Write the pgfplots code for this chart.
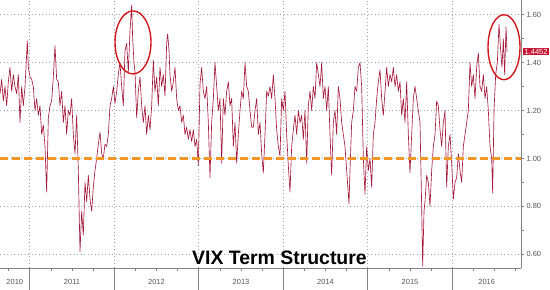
\documentclass[border=0pt]{standalone}
\usepackage{fontspec}
\setmainfont{Liberation Sans}
\usepackage{pgfplots}
\usepackage{pgfplotstable}
\pgfplotsset{compat=1.18}
\definecolor{vixred}{RGB}{165,28,62}
\definecolor{ringred}{RGB}{210,25,30}
\definecolor{tagred}{RGB}{196,24,52}
\definecolor{dashorange}{RGB}{245,150,40}
\definecolor{axgray}{RGB}{130,130,130}
\definecolor{lblgray}{RGB}{85,85,85}
\definecolor{gridgray}{RGB}{165,165,165}

% t = time position on the chart (year boundaries at 29.7, 114.3, 198.7, 283.3, 367.7, 452.3)
% val = VIX term-structure ratio
\pgfplotstableread{
t val
0 1.27
1.67 1.33
3.33 1.24
5 1.30
6.67 1.22
8.33 1.32
10 1.38
11.67 1.28
13.33 1.35
15 1.30
16.67 1.27
18.33 1.35
20 1.15
21.67 1.30
23.33 1.22
25 1.30
27.33 1.49
28.33 1.38
30 1.34
31.67 1.33
33.33 1.30
35 1.20
36.67 1.25
38.33 1.18
40 1.22
41.67 1.10
43.33 1.14
45 1.05
46.67 0.86
48.33 1.17
50 1.22
51.67 1.24
53.33 1.34
55 1.47
56.67 1.33
58.33 1.32
60 1.22
61.67 1.28
63.33 1.15
65 1.22
66.67 1.10
68.33 1.20
70 1.18
71.67 1.25
73.33 1.10
75 1.02
76.67 1.18
78.33 0.95
80 0.61
81.67 0.78
83.33 0.68
85 0.90
86.67 0.82
88.33 0.93
90 0.83
91.67 0.78
93.33 0.88
95 0.95
96.67 1.00
98.33 1.06
100 1.11
101.67 1.02
103.33 1.00
105 1.06
106.67 1.05
108.33 1.10
110 1.22
111.67 1.25
113.33 1.30
115 1.23
116.67 1.28
118.33 1.35
120 1.40
121.67 1.30
123.33 1.22
125 1.45
126.67 1.48
128.33 1.36
130 1.53
131.67 1.64
132.67 1.50
134 1.40
135 1.36
136.67 1.17
138.33 1.28
140 1.34
141.67 1.22
143.33 1.15
145 1.22
146.67 1.10
148.33 1.18
150 1.12
151.67 1.22
153.33 1.41
155 1.28
156.67 1.34
158.33 1.22
160 1.38
161.67 1.30
163.33 1.35
165 1.26
166.67 1.48
167.67 1.52
169 1.45
170 1.35
171.67 1.28
173.33 1.32
175 1.38
176.67 1.25
178.33 1.20
180 1.22
181.67 1.15
183.33 1.18
185 1.10
186.67 1.13
188.33 1.08
190 1.12
191.67 1.07
193.33 1.12
195 1.05
196.67 1.08
198.33 0.97
200 1.31
201.67 1.38
203.33 1.28
205 1.25
206.67 1.30
208.33 1.15
210 0.92
211.67 1.15
213.33 1.25
215 1.40
216.67 1.30
218.33 1.20
220 1.25
221.67 0.98
223.33 1.25
225 1.18
226.67 1.28
228.33 1.32
230 1.22
231.67 1.25
233.33 1.05
235 1.15
236.67 0.98
238.33 1.10
240 1.20
241.67 1.28
243.33 1.25
245 1.40
246.67 1.30
248.33 1.28
250 1.20
251.67 1.13
253.33 1.13
255 1.20
256.67 1.25
258.33 1.10
260 1.15
261.67 1.02
263.33 0.94
265 1.10
266.67 1.28
268.33 1.26
270 1.30
271.67 1.25
273.33 1.35
275 1.25
276.67 1.12
278.33 1.05
280 1.01
281.67 1.25
283.33 1.20
285 1.28
286.67 1.10
288.33 0.97
290 0.86
291.67 1.05
293.33 1.12
295 1.18
296.67 1.10
298.33 1.20
300 1.15
301.67 1.18
303.33 1.08
305 1.20
306.67 0.98
308.33 1.22
310 1.28
311.67 1.20
313.33 1.30
315 1.25
316.67 1.40
318.33 1.35
320 1.30
321.67 1.40
323.33 1.25
325 1.30
326.67 1.20
328.33 1.30
330 1.10
331.67 0.93
333.33 1.15
335 1.20
336.67 1.10
338.33 1.30
340 1.25
341.67 1.15
343.33 1.10
345 1.05
346.67 0.95
349 0.81
350 0.95
351.67 1.15
353.33 1.20
355 1.30
356.67 1.28
358.33 1.38
360 1.40
361.67 1.30
363.33 1.00
365 0.85
366.67 1.05
368.33 0.95
370 1.00
371.67 0.88
373.33 1.10
375 1.15
376.67 1.25
378.33 1.32
380 1.37
381.67 1.25
383.33 1.18
385 1.28
386.67 1.38
388.33 1.30
390 1.35
391.67 1.32
393.33 1.38
395 1.30
396.67 1.35
398.33 1.28
400 1.32
401.67 1.18
403.33 1.25
405 1.15
406.67 1.32
408.33 1.10
410 0.94
411.67 1.10
413.33 1.25
415 1.30
416.67 1.25
418.33 1.20
420 1.15
421.67 0.80
422.67 0.55
424 0.78
425 0.82
426.67 0.93
428.33 0.90
430 0.80
431.67 0.95
433.33 1.05
435 1.10
436.67 1.24
438.33 1.22
440 1.12
441.67 1.05
443.33 1.15
445 1.20
446.67 0.88
448.33 1.05
450 1.10
451.67 0.98
453.33 0.83
455 0.90
456.67 0.92
458.33 1.02
460 0.95
461.67 0.90
463.33 1.05
465 1.10
466.67 1.15
468.33 1.20
470 1.40
471.67 1.30
473.33 1.35
475 1.25
476.67 1.38
478.33 1.44
480 1.30
481.67 1.28
483.33 1.35
485 1.25
486.67 1.30
488.33 1.20
490 1.05
491.67 1.00
492.67 0.855
494 1.20
495.67 1.35
497.33 1.40
499 1.56
500.67 1.45
502 1.38
503.33 1.50
504.67 1.35
506 1.55
507 1.4452
}\vix

\begin{document}
\begin{tikzpicture}
\useasboundingbox (0,0) rectangle (550bp,290bp);
\begin{axis}[
  at={(0,22bp)}, anchor=south west,
  scale only axis, width=521bp, height=268bp,
  xmin=0, xmax=521,
  ymin=0.543, ymax=1.661,
  axis x line*=bottom, axis y line*=right,
  axis line style={axgray, line width=0.6bp, -},
  tick align=outside,
  tick style={axgray, line width=0.5bp},
  xtick={29.7,114.3,198.7,283.3,367.7,452.3},
  xticklabels={},
  major tick length=3bp,
  minor tick length=2.5bp,
  minor xtick={8.6,50.8,71.9,93.0,135.4,156.5,177.6,219.8,240.9,262.0,304.4,325.5,346.6,388.8,409.9,431.0,473.4,494.5,515.6},
  extra x ticks={14.8,72,156.5,241,325.5,410,486.7},
  extra x tick labels={2010,2011,2012,2013,2014,2015,2016},
  extra x tick style={grid=none, major tick length=0bp, xticklabel style={yshift=-7.5bp}},
  ytick={0.6,0.8,1.0,1.2,1.4,1.6},
  minor y tick num=1,
  yticklabel style={xshift=-1bp},
  ticklabel style={font=\fontsize{7.5}{9}\selectfont, text=lblgray},
  /pgf/number format/assume math mode=true,
  yticklabel={\pgfmathprintnumber[fixed,fixed zerofill,precision=2]{\tick}},
  grid=major,
  major grid style={gridgray, line width=0.5bp, dash pattern=on 1bp off 2.5bp},
  clip=false,
]
\addplot[vixred, line width=0.65bp, line join=round, no marks]
  table[x=t, y=val] {\vix};
\addplot[dashorange, line width=2.3bp, dash pattern=on 8bp off 4bp, no marks]
  coordinates {(0,1.0) (521,1.0)};
\draw[axgray, line width=0.5bp] (axis cs:29.7,0.543) -- ++(0bp,-22bp);
\draw[axgray, line width=0.5bp] (axis cs:114.3,0.543) -- ++(0bp,-22bp);
\draw[axgray, line width=0.5bp] (axis cs:198.7,0.543) -- ++(0bp,-22bp);
\draw[axgray, line width=0.5bp] (axis cs:283.3,0.543) -- ++(0bp,-22bp);
\draw[axgray, line width=0.5bp] (axis cs:367.7,0.543) -- ++(0bp,-22bp);
\draw[axgray, line width=0.5bp] (axis cs:452.3,0.543) -- ++(0bp,-22bp);
\draw[ringred, line width=1.4bp] (axis cs:133,1.484) ellipse (18bp and 31.5bp);
\draw[ringred, line width=1.4bp] (axis cs:504,1.464) ellipse (16bp and 32.5bp);
\node[anchor=base west, inner sep=0pt, font=\bfseries\fontsize{19.5}{22}\selectfont]
  at (axis cs:192,0.558) {VIX Term Structure};
\node[anchor=west, fill=tagred, text=white, inner xsep=1.5bp, inner ysep=0.8bp,
  font=\fontsize{7.5}{8}\selectfont] at (axis cs:523,1.4452) {1.4452};
\end{axis}
\end{tikzpicture}
\end{document}
